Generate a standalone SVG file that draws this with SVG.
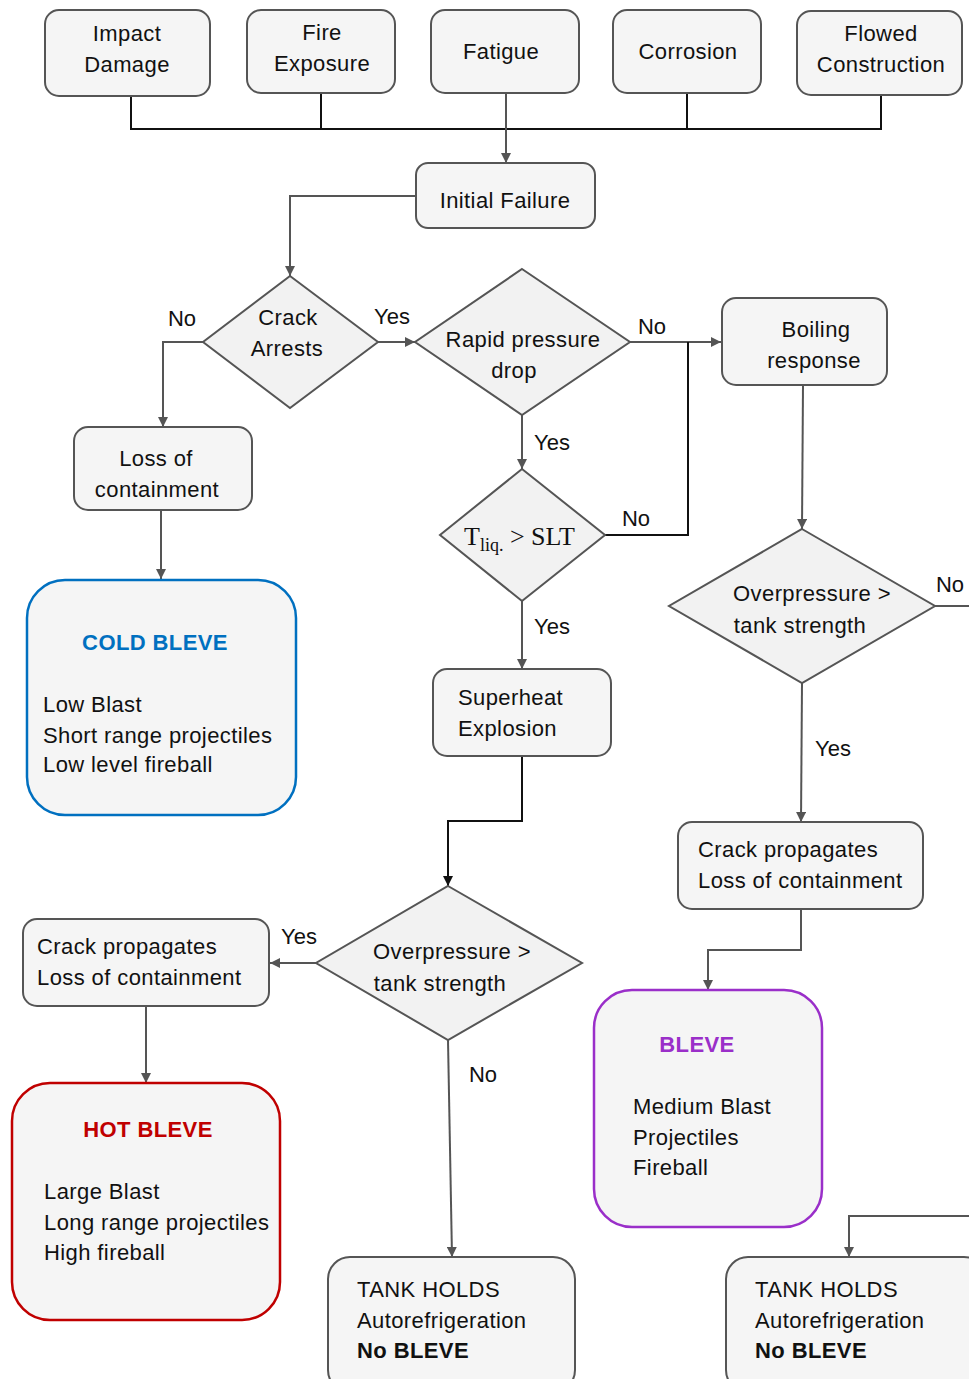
<svg xmlns="http://www.w3.org/2000/svg" width="969" height="1379" viewBox="0 0 969 1379">
<defs>
<marker id="ah" viewBox="0 0 10 10" refX="10" refY="5" markerWidth="10" markerHeight="10" markerUnits="userSpaceOnUse" orient="auto">
<path d="M0,0 L10,5 L0,10 z" fill="#555"/>
</marker>
<marker id="ahb" viewBox="0 0 10 10" refX="10" refY="5" markerWidth="10" markerHeight="10" markerUnits="userSpaceOnUse" orient="auto">
<path d="M0,0 L10,5 L0,10 z" fill="#111"/>
</marker>
<style>
.box{fill:#f5f5f5;stroke:#555;stroke-width:2}
.dia{fill:#f2f2f2;stroke:#555;stroke-width:2}
.t{font-family:"Liberation Sans",Arial,sans-serif;font-size:22px;letter-spacing:0.4px;fill:#111}
.c{text-anchor:middle}
.b{font-weight:bold}
.ln{fill:none;stroke:#555;stroke-width:2}
.lb{fill:none;stroke:#111;stroke-width:2}
.lbl{font-family:"Liberation Sans",Arial,sans-serif;font-size:22px;fill:#111}
.serif{font-family:"Liberation Serif","Times New Roman",serif;fill:#111}
</style>
</defs>
<rect width="969" height="1379" fill="#fff"/>

<g id="connectors">
<path class="lb" d="M131,96 V129 H881 V95"/>
<path class="lb" d="M321,93 V129"/>
<path class="lb" d="M687,93 V129"/>
<path class="ln" d="M506,93 V163" marker-end="url(#ah)"/>
<path class="ln" d="M416,196 H290 V276" marker-end="url(#ah)"/>
<path class="ln" d="M203,342 H163 V427" marker-end="url(#ah)"/>
<path class="ln" d="M378,342 H415" marker-end="url(#ah)"/>
<path class="ln" d="M630,342 H721" marker-end="url(#ah)"/>
<path class="lb" d="M605,535 H688 V342"/>
<path class="ln" d="M522,415 V469" marker-end="url(#ah)"/>
<path class="ln" d="M522,601 V669" marker-end="url(#ah)"/>
<path class="ln" d="M161,510 V579" marker-end="url(#ah)"/>
<path class="lb" d="M522,756 V821 H448 V886" marker-end="url(#ahb)"/>
<path class="ln" d="M316,963 H270" marker-end="url(#ah)"/>
<path class="ln" d="M146,1006 V1083" marker-end="url(#ah)"/>
<path class="ln" d="M448,1040 L452,1257" marker-end="url(#ah)"/>
<path class="ln" d="M803,385 L802,529" marker-end="url(#ah)"/>
<path class="ln" d="M935,606 H969"/>
<path class="ln" d="M802,683 L801,822" marker-end="url(#ah)"/>
<path class="ln" d="M801,909 V950 H708 V990" marker-end="url(#ah)"/>
<path class="ln" d="M969,1216 H849 V1257" marker-end="url(#ah)"/>
</g>

<g id="lbls">
<text class="lbl" x="182" y="326" text-anchor="middle">No</text>
<text class="lbl" x="392" y="324" text-anchor="middle">Yes</text>
<text class="lbl" x="652" y="334" text-anchor="middle">No</text>
<text class="lbl" x="552" y="450" text-anchor="middle">Yes</text>
<text class="lbl" x="636" y="526" text-anchor="middle">No</text>
<text class="lbl" x="552" y="634" text-anchor="middle">Yes</text>
<text class="lbl" x="950" y="592" text-anchor="middle">No</text>
<text class="lbl" x="833" y="756" text-anchor="middle">Yes</text>
<text class="lbl" x="299" y="944" text-anchor="middle">Yes</text>
<text class="lbl" x="483" y="1082" text-anchor="middle">No</text>
</g>

<g id="impact">
<rect class="box" x="45" y="10" width="165" height="86" rx="14"/>
<text class="t c" x="127" y="41">Impact</text>
<text class="t c" x="127" y="72">Damage</text>
</g>
<g id="fire">
<rect class="box" x="247" y="10" width="148" height="83" rx="14"/>
<text class="t c" x="322" y="40">Fire</text>
<text class="t c" x="322" y="71">Exposure</text>
</g>
<g id="fatigue">
<rect class="box" x="431" y="10" width="148" height="83" rx="14"/>
<text class="t c" x="501" y="59">Fatigue</text>
</g>
<g id="corrosion">
<rect class="box" x="613" y="10" width="148" height="83" rx="14"/>
<text class="t c" x="688" y="59">Corrosion</text>
</g>
<g id="flowed">
<rect class="box" x="797" y="11" width="165" height="84" rx="14"/>
<text class="t c" x="881" y="41">Flowed</text>
<text class="t c" x="881" y="72">Construction</text>
</g>
<g id="initial">
<rect class="box" x="416" y="163" width="179" height="65" rx="12"/>
<text class="t c" x="505" y="208">Initial Failure</text>
</g>
<g id="crackarrests">
<polygon class="dia" points="290,276 378,342 290,408 203,342"/>
<text class="t c" x="288" y="325">Crack</text>
<text class="t c" x="287" y="356">Arrests</text>
</g>
<g id="rapid">
<polygon class="dia" points="522,269 630,342 522,415 415,342"/>
<text class="t c" x="523" y="347">Rapid pressure</text>
<text class="t c" x="514" y="378">drop</text>
</g>
<g id="boiling">
<rect class="box" x="722" y="298" width="165" height="87" rx="14"/>
<text class="t c" x="816" y="337">Boiling</text>
<text class="t c" x="814" y="368">response</text>
</g>
<g id="tliq">
<polygon class="dia" points="522,469 605,535 522,601 440,535"/>
<text class="serif" x="464" y="545" font-size="26">T<tspan font-size="18" dy="6">liq.</tspan><tspan font-size="26" dy="-6"> &gt; SLT</tspan></text>
</g>
<g id="losscont">
<rect class="box" x="74" y="427" width="178" height="83" rx="14"/>
<text class="t c" x="156" y="466">Loss of</text>
<text class="t c" x="157" y="497">containment</text>
</g>
<g id="coldbleve">
<rect x="27" y="580" width="269" height="235" rx="38" fill="#f5f5f5" stroke="#0070c0" stroke-width="2.5"/>
<text class="t c b" x="155" y="650" style="fill:#0070c0">COLD BLEVE</text>
<text class="t" x="43" y="712">Low Blast</text>
<text class="t" x="43" y="743">Short range projectiles</text>
<text class="t" x="43" y="772">Low level  fireball</text>
</g>
<g id="superheat">
<rect class="box" x="433" y="669" width="178" height="87" rx="14"/>
<text class="t" x="458" y="705">Superheat</text>
<text class="t" x="458" y="736">Explosion</text>
</g>
<g id="overp2">
<polygon class="dia" points="448,886 582,963 448,1040 316,963"/>
<text class="t c" x="452" y="959">Overpressure &gt;</text>
<text class="t c" x="440" y="991">tank strength</text>
</g>
<g id="crackprop1">
<rect class="box" x="23" y="919" width="246" height="87" rx="14"/>
<text class="t" x="37" y="954">Crack propagates</text>
<text class="t" x="37" y="985">Loss of containment</text>
</g>
<g id="hotbleve">
<rect x="12" y="1083" width="268" height="237" rx="38" fill="#f5f5f5" stroke="#c00000" stroke-width="2.5"/>
<text class="t c b" x="148" y="1137" style="fill:#c00000">HOT BLEVE</text>
<text class="t" x="44" y="1199">Large Blast</text>
<text class="t" x="44" y="1230">Long range projectiles</text>
<text class="t" x="44" y="1260">High fireball</text>
</g>
<g id="tank1">
<rect class="box" x="328" y="1257" width="247" height="135" rx="22"/>
<text class="t" x="357" y="1297">TANK HOLDS</text>
<text class="t" x="357" y="1328">Autorefrigeration</text>
<text class="t b" x="357" y="1358">No BLEVE</text>
</g>
<g id="overp1">
<polygon class="dia" points="802,529 935,606 802,683 669,606"/>
<text class="t c" x="812" y="601">Overpressure &gt;</text>
<text class="t c" x="800" y="633">tank strength</text>
</g>
<g id="crackprop2">
<rect class="box" x="678" y="822" width="245" height="87" rx="14"/>
<text class="t" x="698" y="857">Crack propagates</text>
<text class="t" x="698" y="888">Loss of containment</text>
</g>
<g id="bleve">
<rect x="594" y="990" width="228" height="237" rx="38" fill="#f5f5f5" stroke="#9a2fc9" stroke-width="2.5"/>
<text class="t c b" x="697" y="1052" style="fill:#9a2fc9">BLEVE</text>
<text class="t" x="633" y="1114">Medium Blast</text>
<text class="t" x="633" y="1145">Projectiles</text>
<text class="t" x="633" y="1175">Fireball</text>
</g>
<g id="tank2">
<rect class="box" x="726" y="1257" width="260" height="135" rx="22"/>
<text class="t" x="755" y="1297">TANK HOLDS</text>
<text class="t" x="755" y="1328">Autorefrigeration</text>
<text class="t b" x="755" y="1358">No BLEVE</text>
</g>
</svg>
